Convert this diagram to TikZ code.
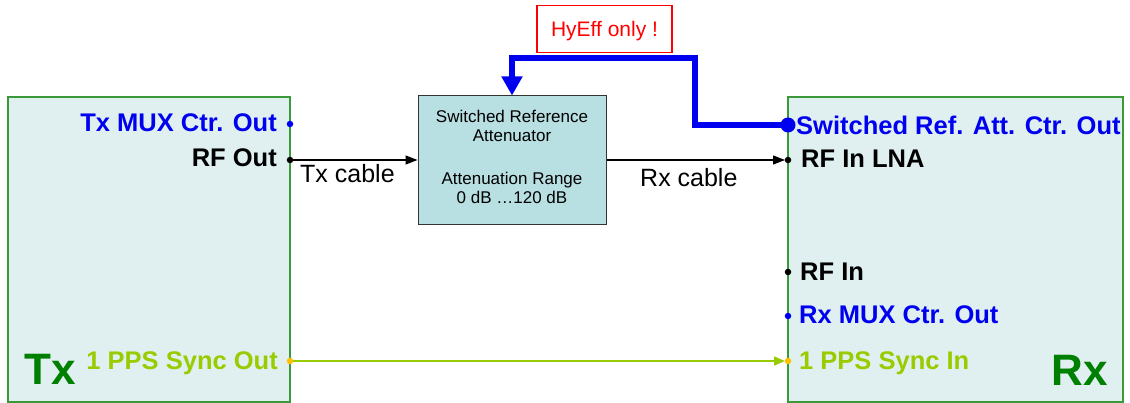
\documentclass[tikz,border=0pt]{standalone}
\usepackage{fontspec}
\setmainfont{Liberation Sans}
\usetikzlibrary{arrows.meta}
\definecolor{boxfill}{HTML}{E0F0F0}
\definecolor{boxline}{HTML}{3A9A3A}
\definecolor{attfill}{HTML}{B8DFE2}
\definecolor{tblue}{HTML}{0000F0}
\definecolor{tgreen}{HTML}{008000}
\definecolor{ygreen}{HTML}{99CC00}
\definecolor{dotorange}{HTML}{FFC000}
\definecolor{hred}{HTML}{FF0000}
\tikzset{
  unitbox/.style={draw=boxline, line width=1.6pt, fill=boxfill},
  portlbl/.style={inner sep=0pt, font=\fontsize{25.5}{30}\selectfont\bfseries},
  biglbl/.style={inner sep=0pt, text=tgreen, font=\fontsize{44}{50}\selectfont\bfseries},
  cablelbl/.style={inner sep=0pt, font=\fontsize{25}{30}\selectfont},
  attlbl/.style={inner sep=0pt, font=\fontsize{17}{20}\selectfont},
  portdot/.style={circle, inner sep=0pt, minimum size=6.5pt},
  rfarrow/.style={line width=1.2pt, -{Triangle[length=12pt,width=9pt]}},
  syncarrow/.style={ygreen, line width=1.6pt, -{Triangle[length=11pt,width=9pt]}},
  ctrarrow/.style={tblue, line width=6pt, -{Triangle[length=19pt,width=20pt]}},
}
\begin{document}
\begin{tikzpicture}[x=1pt,y=-1pt]
\useasboundingbox (0,0) rectangle (1130,403);
% boxes
\draw[unitbox] (8,97) rectangle (290,402);
\draw[unitbox] (788,97) rectangle (1123,402);
\node[draw=black!80, line width=1pt, fill=attfill, minimum width=188pt, minimum height=129pt, inner sep=0pt] (att) at (512,160.5) {};
\node[draw=hred, line width=1.2pt, fill=white, minimum width=135pt, minimum height=47pt, inner sep=0pt] (hy) at (604.5,29) {};
\node[inner sep=0pt, text=hred, font=\fontsize{21}{25}\selectfont, anchor=base] (hytext) at (604.5,37) {HyEff only !};
% attenuator text
\node[attlbl, anchor=base] (a1) at (512,123) {Switched Reference};
\node[attlbl, anchor=base] (a2) at (512,142) {Attenuator};
\node[attlbl, anchor=base] (a3) at (512,185) {Attenuation Range};
\node[attlbl, anchor=base] (a4) at (512,204) {0 dB …120 dB};
% Tx labels
\node[portlbl, text=tblue, anchor=base east] (txmuxl) at (277,132) {Tx MUX Ctr. Out};
\node[portlbl, anchor=base east] (txrfl) at (277,167) {RF Out};
\node[portlbl, text=ygreen, anchor=base east] (txsyncl) at (278,369) {1 PPS Sync Out};
\node[biglbl, anchor=base west] (txl) at (24,384) {Tx};
% Rx labels
\node[portlbl, text=tblue, anchor=base west] (rxswl) at (796,135) {Switched Ref. Att. Ctr. Out};
\node[portlbl, anchor=base west] (rxlnal) at (801,168) {RF In LNA};
\node[portlbl, anchor=base west] (rxrfl) at (800,281) {RF In};
\node[portlbl, text=tblue, anchor=base west] (rxmuxl) at (799,324) {Rx MUX Ctr. Out};
\node[portlbl, text=ygreen, anchor=base west] (rxsyncl) at (799,370) {1 PPS Sync In};
\node[biglbl, anchor=base east] (rxl) at (1108,385) {Rx};
% cable labels
\node[cablelbl, anchor=base west] (txc) at (300,183) {Tx cable};
\node[cablelbl, anchor=base west] (rxc) at (640,187) {Rx cable};
% ports
\coordinate (txmux) at (290,124);
\coordinate (txrf) at (290,160);
\coordinate (txsync) at (290,361);
\coordinate (rxsw) at (788,125);
\coordinate (rxlna) at (788,160);
\coordinate (rxrf) at (788,272);
\coordinate (rxmux) at (788,316);
\coordinate (rxsync) at (788,361);
\coordinate (bend) at (695,58);
% connectors
\draw[rfarrow] (txrf) -- (att.west |- txrf);
\draw[rfarrow] (att.east |- rxlna) -- ([xshift=-3pt]rxlna);
\draw[syncarrow] (txsync) -- ([xshift=-3pt]rxsync);
\draw[ctrarrow] (rxsw) -| (bend) -| (att.north);
% dots
\node[portdot, fill=tblue] (dtxmux) at (txmux) {};
\node[portdot, fill=black] (dtxrf) at (txrf) {};
\node[portdot, fill=dotorange] (dtxsync) at (txsync) {};
\node[portdot, fill=tblue, minimum size=15pt] (drxsw) at (rxsw) {};
\node[portdot, fill=black] (drxlna) at (rxlna) {};
\node[portdot, fill=black] (drxrf) at (rxrf) {};
\node[portdot, fill=tblue] (drxmux) at (rxmux) {};
\node[portdot, fill=dotorange] (drxsync) at (rxsync) {};
\end{tikzpicture}
\end{document}
